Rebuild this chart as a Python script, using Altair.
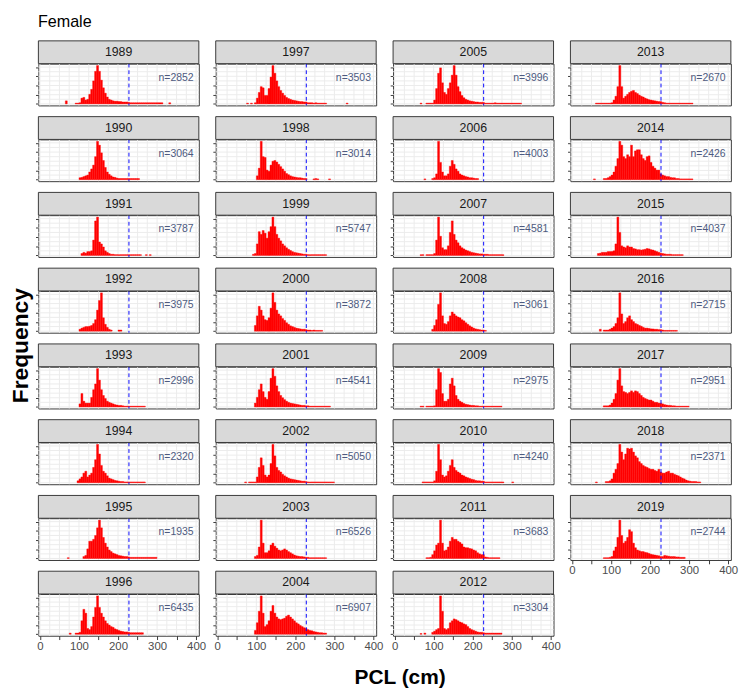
import altair as alt
import pandas as pd

# ---------------- data ----------------
years = [1989, 1990, 1991, 1992, 1993, 1994, 1995, 1996,
         1997, 1998, 1999, 2000, 2001, 2002, 2003, 2004,
         2005, 2006, 2007, 2008, 2009, 2010, 2011, 2012,
         2013, 2014, 2015, 2016, 2017, 2018, 2019]
n_counts = [2852, 3064, 3787, 3975, 2996, 2320, 1935, 6435,
            3503, 3014, 5747, 3872, 4541, 5050, 6526, 6907,
            3996, 4003, 4581, 3061, 2975, 4240, 3683, 3304,
            2670, 2426, 4037, 2715, 2951, 2371, 2744]
# left edge (cm) of the first 5-cm bin of each year
first_bin = [65, 100, 105, 100, 100, 95, 70, 75,
             75, 100, 90, 95, 95, 70, 95, 95,
             65, 75, 65, 95, 65, 70, 80, 65,
             60, 55, 65, 70, 80, 60, 80]
bin_width = 5
# relative bar heights (tallest bar of each year = 100), 5-cm bins
h1989 = [8, 0, 0, 0, 0, 2, 2, 3, 15, 17, 10, 12, 25, 38, 60, 85, 100, 85, 62, 42, 28, 18, 12, 10, 8, 7, 7, 6, 6, 5, 5, 5, 4,
         3, 3, 3, 3, 3, 3, 3, 3, 3, 3, 3, 3, 3, 3, 3, 3, 3, 0, 0, 0, 3]
h1990 = [5, 6, 8, 10, 12, 20, 28, 38, 60, 100, 90, 70, 50, 32, 20, 14, 10, 7, 6, 4, 3, 3, 3, 3, 3, 3, 3, 3, 3, 3, 3]
h1991 = [5, 8, 6, 10, 10, 12, 40, 90, 100, 35, 30, 22, 12, 8, 5, 3, 3,
         2, 2, 2, 2, 2, 2, 2, 2, 2, 2, 2, 2, 2, 2, 0, 0, 2, 0, 2]
h1992 = [5, 8, 10, 12, 12, 13, 15, 20, 30, 55, 80, 100, 35, 18, 10, 5, 3, 0, 0, 0, 3, 3]
h1993 = [8, 35, 15, 10, 10, 10, 25, 45, 60, 100, 70, 45, 30, 22, 15, 12, 10, 8, 6, 5, 4, 4, 3,
         2, 2, 2, 2, 2, 2, 2, 2, 2, 2, 2]
h1994 = [5, 10, 15, 25, 30, 15, 20, 25, 40, 60, 100, 75, 45, 30, 25, 18, 12, 10, 8, 6, 5, 4, 3, 3,
         2, 2, 2, 2, 2, 2, 2, 2, 2, 2, 2]
h1995 = [2, 0, 0, 0, 0, 0, 0, 0, 5, 8, 25, 45, 45, 50, 60, 80, 100, 80, 55, 40, 30, 22, 18, 14, 12, 10, 8, 7, 6, 5, 5, 4,
         3, 3, 3, 3, 3, 3, 3, 3, 3, 3, 3, 3, 3, 3]
h1996 = [3, 0, 0, 3, 3, 5, 35, 65, 55, 15, 12, 20, 45, 70, 100, 70, 55, 45, 35, 28, 24, 20, 18, 14, 12, 10, 8, 7, 6, 6, 5,
         4, 4, 4, 4, 4, 4, 4]
h1997 = [2, 0, 2, 0, 3, 15, 30, 45, 42, 22, 22, 40, 70, 100, 80, 60, 45, 35, 28, 22, 17, 14, 12, 10, 9, 8, 7, 6, 6, 5, 5,
         3, 3, 3, 2, 3, 2, 2, 2, 2, 2, 0, 0, 0, 0, 0, 0, 0, 0, 0, 0, 2]
h1998 = [10, 30, 100, 60, 58, 25, 22, 38, 48, 50, 46, 40, 34, 28, 22, 16, 13, 10, 8, 7, 6, 5, 5, 4, 3, 3,
         0, 0, 0, 2, 3, 2, 0, 0, 0, 0, 0, 2]
h1999 = [3, 5, 30, 62, 55, 65, 58, 45, 62, 75, 100, 75, 55, 45, 38, 30, 25, 20, 16, 13, 10, 8, 7, 6, 5, 4, 3, 3,
         2, 2, 2, 2, 2, 2, 2, 2, 2, 2]
h2000 = [15, 40, 65, 55, 40, 30, 28, 35, 60, 100, 75, 55, 45, 40, 33, 28, 22, 18, 14, 12, 10, 8, 7, 6, 5, 5, 4, 3, 3,
         2, 3, 2, 2, 2, 2]
h2001 = [10, 25, 45, 60, 40, 25, 20, 40, 75, 100, 80, 55, 40, 30, 24, 19, 15, 12, 10, 9, 8, 7, 6, 5, 4, 4, 3, 3,
         2, 2, 2, 2, 2, 2, 2, 2, 2, 2, 2]
h2002 = [2, 0, 2, 2, 2, 2, 15, 40, 65, 45, 20, 15, 20, 50, 100, 70, 40, 32, 28, 22, 18, 15, 12, 10, 9, 8, 7, 6, 5, 4, 4, 3,
         2, 2, 2, 2, 2, 2, 2, 2, 2, 2, 2, 2, 2, 2]
h2003 = [5, 8, 30, 100, 40, 15, 15, 20, 35, 40, 32, 27, 22, 20, 22, 25, 22, 18, 15, 12, 9, 7, 6, 5, 5, 4, 3, 3,
         2, 2, 2, 2, 2, 2, 2, 2, 2]
h2004 = [10, 30, 60, 100, 55, 20, 25, 35, 60, 75, 55, 45, 40, 38, 40, 42, 47, 50, 45, 40, 35, 30, 27, 23, 20, 17, 15, 12,
         10, 9, 7, 6, 5, 4, 4, 3, 3]
h2005 = [2, 0, 0, 2, 2, 2, 2, 10, 40, 80, 94, 55, 30, 25, 40, 55, 75, 100, 75, 45, 32, 22, 16, 12, 10, 8, 7, 6, 5, 5, 4, 4, 4,
         2, 2, 2, 2, 2, 3, 2, 2, 2, 2, 2, 2, 2, 2, 2, 2, 2, 2, 2]
h2006 = [2, 0, 0, 0, 3, 5, 15, 100, 45, 20, 10, 10, 15, 35, 50, 40, 28, 22, 15, 12, 10, 8, 7, 5, 5, 4, 3, 3]
h2007 = [2, 2, 0, 2, 2, 2, 2, 5, 40, 100, 50, 20, 15, 15, 25, 60, 90, 55, 40, 33, 25, 20, 17, 14, 12, 10, 8, 7, 6, 5, 4, 4,
         3, 3, 3, 2, 2, 2, 2, 2, 2, 2, 2]
h2008 = [5, 15, 30, 70, 100, 40, 20, 18, 25, 40, 50, 45, 40, 37, 35, 30, 27, 22, 18, 14, 11, 8, 6, 5, 4, 3, 3, 2]
h2009 = [2, 2, 0, 2, 2, 2, 2, 3, 45, 100, 90, 35, 15, 15, 20, 60, 75, 55, 30, 20, 15, 12, 9, 7, 6, 5, 4, 4, 3, 3,
         2, 2, 2, 2, 2, 2, 2, 2, 2, 2, 2, 2]
h2010 = [2, 2, 2, 2, 2, 2, 5, 30, 100, 60, 20, 15, 18, 30, 45, 60, 40, 32, 28, 25, 20, 18, 15, 13, 11, 9, 8, 6, 5, 5, 4, 4,
         2, 2, 2, 2, 2, 2, 2, 2, 2, 2, 0, 0, 0, 0, 2]
h2011 = [2, 2, 3, 10, 20, 35, 40, 100, 40, 20, 22, 30, 45, 55, 50, 50, 45, 42, 38, 30, 28, 28, 26, 25, 22, 20, 15, 12,
         10, 10, 4, 3, 2, 2, 2, 2, 2, 2]
h2012 = [2, 0, 3, 0, 0, 0, 5, 8, 12, 15, 100, 60, 15, 12, 15, 30, 35, 40, 38, 35, 32, 30, 27, 25, 20, 15, 12, 10, 8, 6, 5, 5,
         4, 3, 3, 3, 3, 3, 3, 3, 3, 3]
h2013 = [2, 2, 2, 2, 2, 2, 2, 2, 3, 10, 20, 45, 100, 45, 15, 20, 25, 30, 33, 35, 30, 27, 23, 20, 18, 15, 13, 11, 10, 9, 8,
         7, 6, 6, 4, 3, 2, 2, 2, 2, 2, 2, 2, 2, 2, 2, 2, 2, 2, 2]
h2014 = [2, 0, 0, 0, 0, 3, 3, 5, 8, 12, 20, 35, 55, 100, 90, 60, 55, 65, 60, 90, 60, 75, 78, 78, 65, 55, 50, 60, 62, 45,
         35, 30, 25, 25, 15, 12, 10, 8, 8, 6, 5, 5, 3, 3, 2, 2, 2, 2, 2, 2, 2]
h2015 = [5, 6, 8, 8, 8, 10, 10, 10, 12, 30, 100, 60, 25, 22, 20, 25, 22, 22, 18, 17, 15, 15, 14, 15, 16, 18, 17, 15, 14,
         12, 10, 8, 6, 5, 4, 3, 3, 3, 2, 2, 2, 2, 2, 2]
h2016 = [5, 0, 3, 3, 3, 5, 8, 12, 20, 35, 100, 45, 20, 25, 35, 40, 30, 25, 20, 18, 15, 13, 10, 8, 8, 7, 6, 6, 5, 5, 4, 4,
         3, 2, 2, 2, 2, 2, 2, 2]
h2017 = [3, 3, 3, 5, 10, 20, 35, 70, 100, 55, 40, 38, 35, 38, 42, 38, 42, 40, 35, 30, 25, 22, 20, 18, 18, 15, 12, 12,
         10, 10, 8, 6, 5, 4, 4, 3, 3, 2, 2, 2, 2, 2, 2, 2]
h2018 = [2, 0, 0, 0, 0, 3, 3, 5, 10, 25, 35, 50, 100, 80, 60, 75, 90, 88, 90, 80, 70, 65, 55, 50, 45, 42, 40, 37, 35, 35,
         32, 30, 35, 28, 25, 25, 28, 30, 25, 25, 22, 20, 18, 15, 12, 10, 7, 5, 4, 3, 3, 3, 2, 2]
h2019 = [2, 2, 2, 3, 5, 20, 30, 55, 100, 60, 40, 45, 55, 75, 70, 40, 28, 22, 20, 18, 18, 16, 15, 13, 11, 10, 9, 8, 7, 5, 5,
         8, 7, 6, 5, 5, 5, 4, 4, 3, 3, 3]

heights = [h1989, h1990, h1991, h1992, h1993, h1994, h1995, h1996,
           h1997, h1998, h1999, h2000, h2001, h2002, h2003, h2004,
           h2005, h2006, h2007, h2008, h2009, h2010, h2011, h2012,
           h2013, h2014, h2015, h2016, h2017, h2018, h2019]

# panel columns, read top to bottom
columns_years = [years[0:8], years[8:16], years[16:24], years[24:31]]

reference_line = [228]
grid_x = [0, 25, 50, 75, 100, 125, 150, 175, 200, 225, 250, 275, 300, 325, 350, 375, 400]
grid_y = [0, 12, 24, 36, 48, 60, 72, 84, 96]
tick_x = [0, 50, 100, 150, 200, 250, 300, 350, 400]
tick_y = [0, 24, 48, 72, 96]
y_title = "Frequency"
x_title = "PCL (cm)"

# ---------------- build table ----------------
recs = []
for yr, start, hs, n in zip(years, first_bin, heights, n_counts):
    for k, hv in enumerate(hs):
        if hv > 0:
            recs.append({"year": yr, "kind": "bar", "x0": start + bin_width * k,
                         "x1": start + bin_width * (k + 1), "h": hv, "nlab": ""})
    recs.append({"year": yr, "kind": "label", "x0": 0, "x1": 0, "h": 0, "nlab": f"n={n}"})
df = pd.DataFrame(recs)

W, H, STRIP = 169, 44, 24
ROW_GAP = 9.8
xs = alt.Scale(domain=[-4, 407], nice=False, zero=False)
ys = alt.Scale(domain=[-4, 105], nice=False, zero=False)

xaxis_bottom = alt.Axis(values=tick_x, labelExpr="datum.value % 100 === 0 ? datum.label : ''",
                        tickSize=4, tickColor="#333333", tickWidth=1, labelColor="#4d4d4d",
                        labelFontSize=12, labelPadding=1, labelFlush=False, domain=False,
                        grid=False, title=None)
yaxis = alt.Axis(values=tick_y, tickSize=3, tickColor="#333333", tickWidth=1,
                 labels=False, domain=False, grid=False, title=None)

grid_x_df = pd.DataFrame({"gx": grid_x})
grid_y_df = pd.DataFrame({"gy": grid_y})
ref_df = pd.DataFrame({"v": reference_line})


def panel(yr, bottom):
    xaxis = xaxis_bottom if bottom else None
    gx = alt.Chart(grid_x_df).mark_rule(color="#ebebeb", strokeWidth=1).encode(
        x=alt.X("gx:Q", scale=xs, axis=xaxis))
    gy = alt.Chart(grid_y_df).mark_rule(color="#ebebeb", strokeWidth=1).encode(
        y=alt.Y("gy:Q", scale=ys, axis=yaxis))
    bars = alt.Chart(df).mark_rect(color="#ff0000", stroke="#ff0000", strokeWidth=0.4).transform_filter(
        (alt.datum.year == yr) & (alt.datum.kind == "bar")).encode(
        x=alt.X("x0:Q", scale=xs, axis=xaxis), x2="x1:Q",
        y=alt.Y("h:Q", scale=ys, axis=yaxis), y2=alt.datum(0))
    vline = alt.Chart(ref_df).mark_rule(color="#0000ff", strokeDash=[4, 3], strokeWidth=1).encode(
        x=alt.X("v:Q", scale=xs, axis=xaxis))
    lab = alt.Chart(df).transform_filter((alt.datum.year == yr) & (alt.datum.kind == "label"))
    # "n=" label sits near the upper right of the panel
    ntext = lab.mark_text(fontSize=11, color="#4d5a80", align="center", baseline="middle").encode(
        x=alt.value(145), y=alt.value(15), text="nlab:N")
    srect = lab.mark_rect(fill="#d9d9d9", stroke="#333333", strokeWidth=1).encode(
        x=alt.value(0), x2=alt.value(W), y=alt.value(-STRIP), y2=alt.value(0))
    stext = lab.mark_text(fontSize=13, color="#1a1a1a", align="center", baseline="middle").encode(
        x=alt.value(W / 2), y=alt.value(-STRIP / 2), text="year:N")
    return alt.layer(gx, gy, bars, vline, ntext, srect, stext).properties(width=W, height=H)


cols = [alt.vconcat(*[panel(y, y == col[-1]) for y in col], spacing=ROW_GAP)
        for col in columns_years]

grid = alt.hconcat(*cols, spacing=5.8).properties(
    title=alt.TitleParams(y_title, orient="left", anchor="middle", fontSize=24, fontWeight="bold",
                          color="#000000", offset=1.5))

pcl = alt.Chart(pd.DataFrame({"t": [x_title]})).mark_text(
    fontSize=22, fontWeight="bold", color="#000000", align="center", baseline="middle").encode(
    text="t:N", x=alt.value(381), y=alt.value(11)).properties(
    width=700, height=22, view=alt.ViewBackground(stroke="transparent"))

chart = alt.vconcat(grid, pcl, spacing=14).properties(
    title=alt.TitleParams("Female", anchor="start", dx=29, offset=10, fontSize=17,
                          fontWeight="normal", color="#000000"),
    padding={"left": 2, "top": -13, "right": 1, "bottom": 1},
).configure(font="Liberation Sans").configure_view(stroke="#333333", strokeWidth=1)

chart.save("out.html", embed_options={"renderer": "svg", "actions": False})
